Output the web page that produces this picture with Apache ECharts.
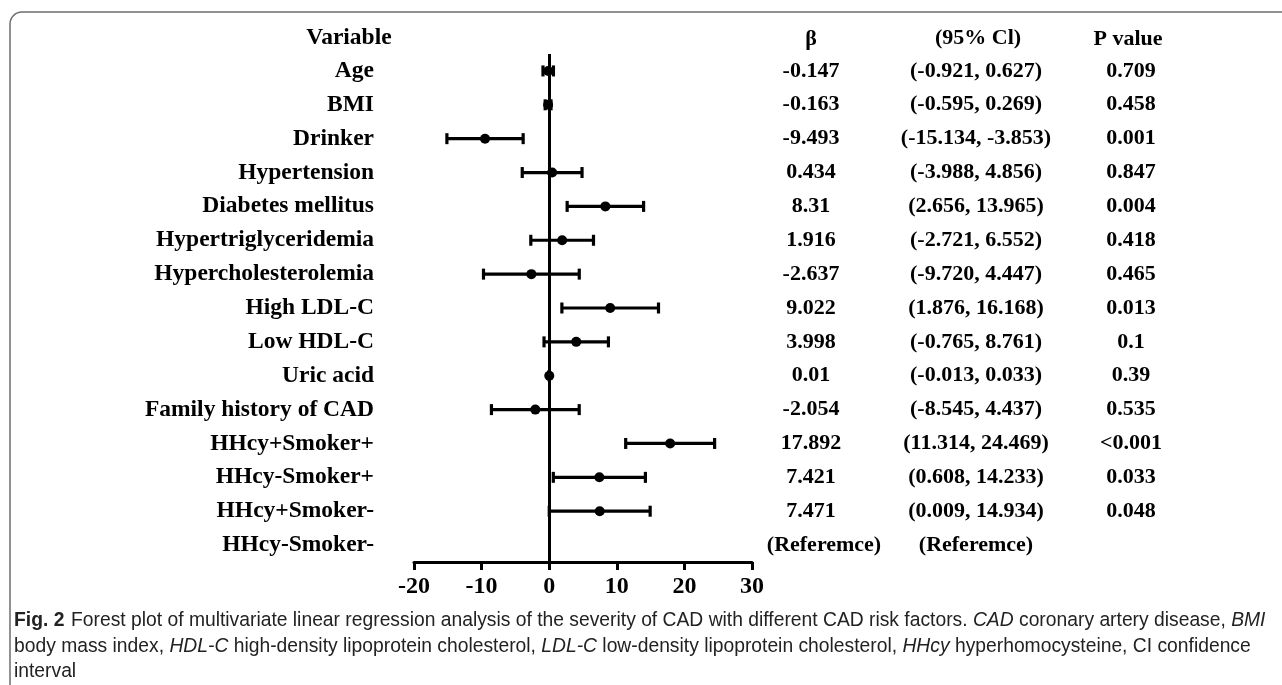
<!DOCTYPE html>
<html>
<head>
<meta charset="utf-8">
<script src="https://cdn.jsdelivr.net/npm/echarts@6/dist/echarts.min.js"></script>
<style>html,body{margin:0;padding:0;background:#fff;}#chart{width:1282px;height:685px;}</style>
</head>
<body>
<div id="chart"></div>
<script>
var variables = ['Age','BMI','Drinker','Hypertension','Diabetes mellitus','Hypertriglyceridemia','Hypercholesterolemia','High LDL-C','Low HDL-C','Uric acid','Family history of CAD','HHcy+Smoker+','HHcy-Smoker+','HHcy+Smoker-','HHcy-Smoker-'];
var beta = [-0.147,-0.163,-9.493,0.434,8.31,1.916,-2.637,9.022,3.998,0.01,-2.054,17.892,7.421,7.471,null];
var ciLow = [-0.921,-0.595,-15.134,-3.988,2.656,-2.721,-9.720,1.876,-0.765,-0.013,-8.545,11.314,0.608,0.009,null];
var ciHigh = [0.627,0.269,-3.853,4.856,13.965,6.552,4.447,16.168,8.761,0.033,4.437,24.469,14.233,14.934,null];
var betaLabels = ['-0.147','-0.163','-9.493','0.434','8.31','1.916','-2.637','9.022','3.998','0.01','-2.054','17.892','7.421','7.471','(Referemce)'];
var ciLabels = ['(-0.921, 0.627)','(-0.595, 0.269)','(-15.134, -3.853)','(-3.988, 4.856)','(2.656, 13.965)','(-2.721, 6.552)','(-9.720, 4.447)','(1.876, 16.168)','(-0.765, 8.761)','(-0.013, 0.033)','(-8.545, 4.437)','(11.314, 24.469)','(0.608, 14.233)','(0.009, 14.934)','(Referemce)'];
var pLabels = ['0.709','0.458','0.001','0.847','0.004','0.418','0.465','0.013','0.1','0.39','0.535','<0.001','0.033','0.048',''];
var headers = ['Variable','\u03b2','(95% Cl)','P value'];
var xTicks = [-20,-10,0,10,20,30];

var SERIF = '"Liberation Serif","Times New Roman",serif';
var SANS = '"Liberation Sans",Arial,sans-serif';
var CAP = 19.3;

var forestData = [];
for (var i = 0; i < variables.length; i++) {
  if (beta[i] !== null) forestData.push([beta[i], variables[i], ciLow[i], ciHigh[i]]);
}
var textData = variables.map(function (v) { return [0, v]; });

var chart = echarts.init(document.getElementById('chart'));
var option = {
  backgroundColor: '#fff',
  animation: false,
  grid: { left: 414, width: 338, top: 54, height: 508 },
  xAxis: {
    type: 'value', min: xTicks[0], max: xTicks[xTicks.length - 1], interval: 10,
    axisLine: { show: true, onZero: false, lineStyle: { color: '#000', width: 3 } },
    axisTick: { show: true, inside: false, length: 8, lineStyle: { color: '#000', width: 3 } },
    axisLabel: { color: '#000', fontFamily: SERIF, fontWeight: 'bold', fontSize: 24, margin: 13 },
    splitLine: { show: false }
  },
  yAxis: {
    type: 'category', data: variables, inverse: true, boundaryGap: true,
    axisLine: { show: false }, axisTick: { show: false }, splitLine: { show: false },
    axisLabel: { color: '#000', fontFamily: SERIF, fontWeight: 'bold', fontSize: 23.5, margin: 40, align: 'right' }
  },
  graphic: [
    { type: 'rect', shape: { x: 10, y: 12, width: 1300, height: 700, r: 12 }, style: { fill: 'none', stroke: '#6d6d6d', lineWidth: 1.5 }, silent: true, z: -10 },
    { type: 'text', x: 349, y: 38, style: { text: headers[0], fill: '#000', font: 'bold 23.5px ' + SERIF, textAlign: 'center', textVerticalAlign: 'middle' } },
    { type: 'text', x: 811, y: 39, style: { text: headers[1], fill: '#000', font: 'bold 22px ' + SERIF, textAlign: 'center', textVerticalAlign: 'middle' } },
    { type: 'text', x: 978, y: 38, style: { text: headers[2], fill: '#000', font: 'bold 22px ' + SERIF, textAlign: 'center', textVerticalAlign: 'middle' } },
    { type: 'text', x: 1128, y: 39, style: { text: headers[3], fill: '#000', font: 'bold 22px ' + SERIF, textAlign: 'center', textVerticalAlign: 'middle' } },
    { type: 'text', x: 14, y: 621, style: {
        text: '{b|Fig. 2}  {n|Forest plot of multivariate linear regression analysis of the severity of CAD with different CAD risk factors. }{i|CAD}{n| coronary artery disease, }{i|BMI}',
        textVerticalAlign: 'middle',
        rich: { b: { font: 'bold ' + CAP + 'px ' + SANS, fill: '#222' }, n: { font: CAP + 'px ' + SANS, fill: '#222' }, i: { font: 'italic ' + CAP + 'px ' + SANS, fill: '#222' } } } },
    { type: 'text', x: 14, y: 647, style: {
        text: '{n|body mass index, }{i|HDL-C}{n| high-density lipoprotein cholesterol, }{i|LDL-C}{n| low-density lipoprotein cholesterol, }{i|HHcy}{n| hyperhomocysteine, CI confidence}',
        textVerticalAlign: 'middle',
        rich: { n: { font: CAP + 'px ' + SANS, fill: '#222' }, i: { font: 'italic ' + CAP + 'px ' + SANS, fill: '#222' } } } },
    { type: 'text', x: 14, y: 672, style: { text: 'interval', textVerticalAlign: 'middle', font: CAP + 'px ' + SANS, fill: '#222' } }
  ],
  series: [
    {
      type: 'custom', clip: false,
      encode: { x: [0, 2, 3], y: 1 },
      data: forestData,
      renderItem: function (params, api) {
        var yi = api.value(1);
        var pb = api.coord([api.value(0), yi]);
        var pl = api.coord([api.value(2), yi]);
        var ph = api.coord([api.value(3), yi]);
        var h = 5.5, st = { stroke: '#000', lineWidth: 3.2 };
        return { type: 'group', children: [
          { type: 'line', shape: { x1: pl[0], y1: pl[1], x2: ph[0], y2: ph[1] }, style: st },
          { type: 'line', shape: { x1: pl[0], y1: pl[1] - h, x2: pl[0], y2: pl[1] + h }, style: st },
          { type: 'line', shape: { x1: ph[0], y1: ph[1] - h, x2: ph[0], y2: ph[1] + h }, style: st },
          { type: 'circle', shape: { cx: pb[0], cy: pb[1], r: 5 }, style: { fill: '#000' } }
        ] };
      },
      markLine: {
        silent: true, symbol: ['none', 'none'], label: { show: false },
        lineStyle: { color: '#000', width: 3, type: 'solid' },
        data: [{ xAxis: 0 }]
      },
      z: 3
    },
    {
      type: 'custom', clip: false,
      encode: { x: 0, y: 1 },
      data: textData,
      renderItem: function (params, api) {
        var y = api.coord([0, api.value(1)])[1];
        var idx = params.dataIndex;
        var font = 'bold 22px ' + SERIF;
        return { type: 'group', children: [
          { type: 'text', x: idx === 14 ? 824 : 811, y: y, style: { text: betaLabels[idx], font: font, fill: '#000', textAlign: 'center', textVerticalAlign: 'middle' } },
          { type: 'text', x: 976, y: y, style: { text: ciLabels[idx], font: font, fill: '#000', textAlign: 'center', textVerticalAlign: 'middle' } },
          { type: 'text', x: 1131, y: y, style: { text: pLabels[idx], font: font, fill: '#000', textAlign: 'center', textVerticalAlign: 'middle' } }
        ] };
      }
    }
  ]
};
chart.setOption(option);
</script>
</body>
</html>
